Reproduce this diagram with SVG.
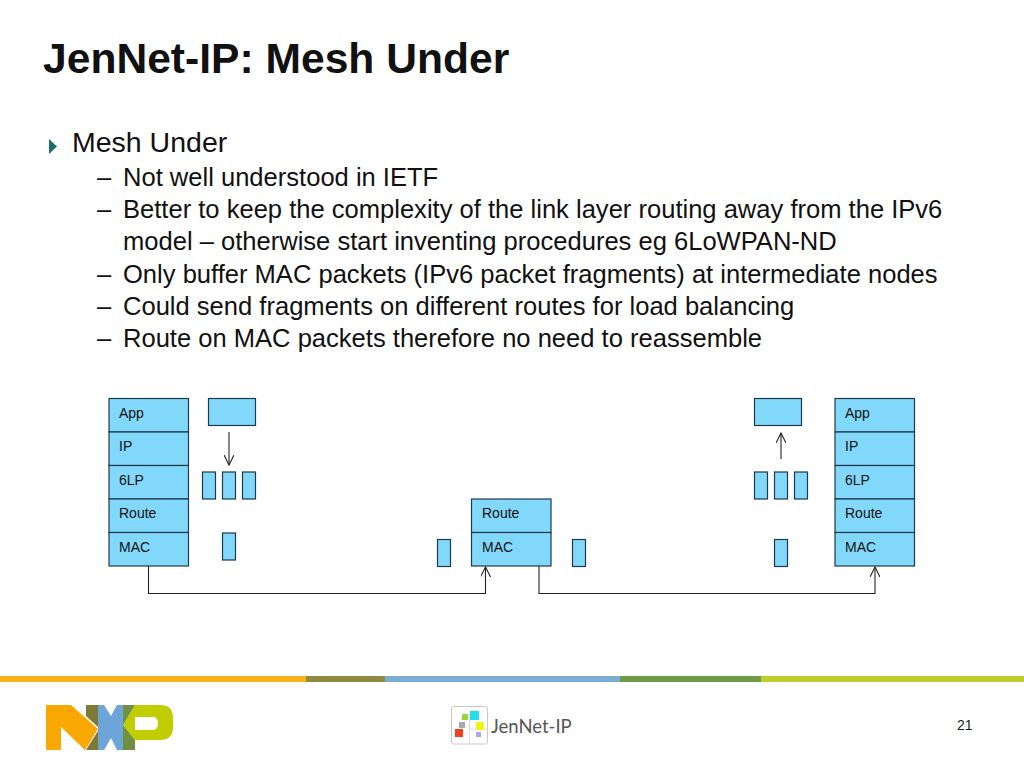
<svg xmlns="http://www.w3.org/2000/svg" width="1024" height="768" viewBox="0 0 1024 768">
<defs>
<style>
text{font-family:"Liberation Sans",Arial,sans-serif;fill:#000}
.title{font-size:42.6px;font-weight:bold;fill:#111}
.l1{font-size:28.5px;fill:#111}
.l2{font-size:25.55px;fill:#111}
.lab{font-size:14px;fill:#111}
.box{fill:#82d8fb;stroke:#1f3a4a;stroke-width:1.2}
.conn{fill:none;stroke:#222;stroke-width:1.1}
</style>
<marker id="arr" markerWidth="12" markerHeight="10" refX="10" refY="5" orient="auto" markerUnits="userSpaceOnUse">
<path d="M0,0 L10,5 L0,10" fill="none" stroke="#222" stroke-width="1.1"/>
</marker>
</defs>
<rect width="1024" height="768" fill="#fff"/>
<text class="title" x="43" y="73">JenNet-IP: Mesh Under</text>
<polygon points="49,139 57,146.500 49,154" fill="#1c6d70"/>
<text class="l1" x="72" y="152">Mesh Under</text>
<g>
<text class="l2" x="97" y="186">–</text><text class="l2" x="123" y="186">Not well understood in IETF</text>
<text class="l2" x="97" y="218">–</text><text class="l2" x="123" y="218">Better to keep the complexity of the link layer routing away from the IPv6</text>
<text class="l2" x="123" y="250">model – otherwise start inventing procedures eg 6LoWPAN-ND</text>
<text class="l2" x="97" y="283">–</text><text class="l2" x="123" y="283">Only buffer MAC packets (IPv6 packet fragments) at intermediate nodes</text>
<text class="l2" x="97" y="315">–</text><text class="l2" x="123" y="315">Could send fragments on different routes for load balancing</text>
<text class="l2" x="97" y="347">–</text><text class="l2" x="123" y="347">Route on MAC packets therefore no need to reassemble</text>
</g>
<g id="stack-left">
<rect class="box" x="109" y="398.500" width="79.500" height="33.500"/><text class="lab" x="119" y="418">App</text>
<rect class="box" x="109" y="432" width="79.500" height="33.500"/><text class="lab" x="119" y="451">IP</text>
<rect class="box" x="109" y="465.500" width="79.500" height="33.500"/><text class="lab" x="119" y="485">6LP</text>
<rect class="box" x="109" y="499" width="79.500" height="33.500"/><text class="lab" x="119" y="518">Route</text>
<rect class="box" x="109" y="532.500" width="79.500" height="33.500"/><text class="lab" x="119" y="552">MAC</text>
</g>
<g id="stack-middle">
<rect class="box" x="471.500" y="499" width="79.500" height="33.500"/><text class="lab" x="482" y="518">Route</text>
<rect class="box" x="471.500" y="532.500" width="79.500" height="33.500"/><text class="lab" x="482" y="552">MAC</text>
</g>
<g id="stack-right">
<rect class="box" x="835" y="398.500" width="79.500" height="33.500"/><text class="lab" x="845" y="418">App</text>
<rect class="box" x="835" y="432" width="79.500" height="33.500"/><text class="lab" x="845" y="451">IP</text>
<rect class="box" x="835" y="465.500" width="79.500" height="33.500"/><text class="lab" x="845" y="485">6LP</text>
<rect class="box" x="835" y="499" width="79.500" height="33.500"/><text class="lab" x="845" y="518">Route</text>
<rect class="box" x="835" y="532.500" width="79.500" height="33.500"/><text class="lab" x="845" y="552">MAC</text>
</g>
<g id="packets-left">
<rect class="box" x="208.500" y="398.500" width="47" height="27"/>
<rect class="box" x="202.500" y="472" width="13" height="27"/>
<rect class="box" x="222.500" y="472" width="13" height="27"/>
<rect class="box" x="242.500" y="472" width="13" height="27"/>
<rect class="box" x="222.500" y="533" width="13" height="27"/>
</g>
<g id="packets-middle">
<rect class="box" x="437.500" y="539.500" width="13" height="27"/>
<rect class="box" x="572.500" y="539.500" width="13" height="27"/>
</g>
<g id="packets-right">
<rect class="box" x="754.500" y="398.500" width="47" height="27"/>
<rect class="box" x="754.500" y="472" width="13" height="27"/>
<rect class="box" x="774.500" y="472" width="13" height="27"/>
<rect class="box" x="794.500" y="472" width="13" height="27"/>
<rect class="box" x="774.500" y="539.500" width="13" height="27"/>
</g>
<g id="connectors">
<path class="conn" d="M148.500,566 V593.500 H485.500 V567" marker-end="url(#arr)"/>
<path class="conn" d="M539,566 V593.500 H875 V567" marker-end="url(#arr)"/>
<path class="conn" d="M229,432 V465" marker-end="url(#arr)"/>
<path class="conn" d="M781,459 V433" marker-end="url(#arr)"/>
</g>
<g id="footer-bar">
<rect x="0" y="676" width="306" height="6" fill="#f9b11a"/>
<rect x="306" y="676" width="79" height="6" fill="#8f8b3e"/>
<rect x="385" y="676" width="235" height="6" fill="#7aadd4"/>
<rect x="620" y="676" width="141" height="6" fill="#6f9b45"/>
<rect x="761" y="676" width="263" height="6" fill="#bfcc2e"/>
</g>
<g id="nxp-logo">
<path d="M123,725 L135,705 H160 Q173,705 173,718 V727 Q173,740 160,740 H135 Z M135,717 V730 H153 Q158,730 158,723.500 Q158,717 153,717 Z" fill="#c0cd00" fill-rule="evenodd"/>
<polygon points="123,705 135,705 123,725" fill="#6f9140"/>
<polygon points="123,725 135,740 135,750 123,750" fill="#6f9140"/>
<polygon points="86,705 98,705 98,727 86,716" fill="#7d7a35"/>
<polygon points="86,750 98,731 98,750" fill="#7d7a35"/>
<polygon points="46,705 71,705 98,729 85,750 61,727 61,750 46,750" fill="#f8a800"/>
<polygon points="98,705 104,705 111,716 117,705 123,705 123,750 117,750 111,738 104,750 98,750" fill="#6ea5d9"/>
</g>
<g id="jennet-logo">
<rect x="451.500" y="706.500" width="36" height="37.500" rx="2" fill="none" stroke="#c8c8c8"/>
<path d="M469.500,714 V744 M470,729 H487" stroke="#ddd" fill="none"/>
<rect x="462" y="714" width="6" height="6" fill="#8fd93a"/>
<rect x="470" y="711" width="9" height="9" fill="#22e0ea"/>
<rect x="459" y="722" width="6" height="6" fill="#a9a9a9"/>
<rect x="476" y="722" width="8" height="8" fill="#f2f21a"/>
<rect x="455" y="729" width="8" height="8" fill="#f0401c"/>
<rect x="476" y="732" width="5" height="5" fill="#b3a5e6"/>
<text x="491" y="733" style="font-family:'Lato','Liberation Sans',sans-serif;font-size:18.500px;fill:#555">JenNet-IP</text>
</g>
<text x="957" y="730" style="font-size:14px;fill:#222">21</text>
</svg>
